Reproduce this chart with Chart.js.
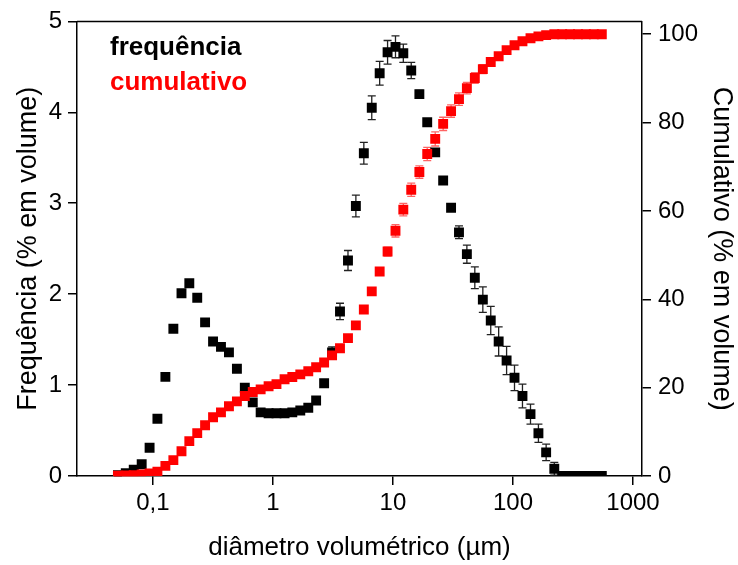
<!DOCTYPE html>
<html>
<head>
<meta charset="utf-8">
<script src="https://cdn.jsdelivr.net/npm/chart.js@4.4.0/dist/chart.umd.min.js"></script>
<style>
  body { margin: 0; background: #fff; }
  #wrap { width: 738px; height: 565px; }
</style>
</head>
<body>
<div id="wrap"><canvas id="psd"></canvas></div>
<script>
// particle diameters (um)
var diameters = [0.0511, 0.0594, 0.0692, 0.0806, 0.0938, 0.109, 0.127, 0.148, 0.173, 0.201,
  0.234, 0.272, 0.317, 0.369, 0.430, 0.501, 0.583, 0.679, 0.790, 0.920,
  1.07, 1.25, 1.45, 1.69, 1.97, 2.29, 2.67, 3.11, 3.62, 4.22,
  4.91, 5.72, 6.66, 7.75, 9.02, 10.5, 12.2, 14.2, 16.6, 19.3,
  22.5, 26.2, 30.5, 35.5, 41.3, 48.1, 56.1, 65.3, 76.0, 88.5,
  103, 120, 140, 163, 189, 221, 257, 299, 348, 405,
  472, 550];

// frequency (% em volume) and its error
var frequencia = [0.01, 0.03, 0.07, 0.13, 0.31, 0.63, 1.09, 1.62, 2.01, 2.12,
  1.96, 1.69, 1.48, 1.42, 1.36, 1.18, 0.97, 0.81, 0.70, 0.69,
  0.69, 0.69, 0.70, 0.72, 0.75, 0.83, 1.02, 1.36, 1.81, 2.37,
  2.97, 3.55, 4.05, 4.43, 4.66, 4.72, 4.65, 4.46, 4.20, 3.89,
  3.56, 3.25, 2.95, 2.68, 2.44, 2.18, 1.94, 1.71, 1.48, 1.27,
  1.08, 0.88, 0.68, 0.47, 0.26, 0.08, 0, 0, 0, 0,
  0, 0];
var frequenciaErr = [0.01, 0.01, 0.01, 0.01, 0.01, 0.01, 0.01, 0.01, 0.01, 0.01,
  0.01, 0.01, 0.01, 0.01, 0.01, 0.01, 0.01, 0.01, 0.01, 0.01,
  0.01, 0.01, 0.01, 0.01, 0.01, 0.01, 0.02, 0.06, 0.09, 0.11,
  0.12, 0.12, 0.13, 0.13, 0.13, 0.12, 0.10, 0.09, 0.04, 0.02,
  0.02, 0.02, 0.04, 0.07, 0.10, 0.12, 0.14, 0.155, 0.16, 0.155,
  0.14, 0.13, 0.11, 0.10, 0.09, 0.07, 0, 0, 0, 0,
  0, 0];

// cumulative (% em volume) and its error
var cumulativo = [0.05, 0.1, 0.2, 0.35, 0.6, 1.0, 2.3, 3.6, 5.6, 7.9,
  9.7, 11.5, 13.3, 14.4, 15.8, 16.9, 18.1, 19.0, 19.6, 20.3,
  20.8, 21.9, 22.4, 23.0, 23.7, 24.6, 25.7, 27.3, 28.9, 31.2,
  34.1, 37.7, 41.8, 46.3, 50.8, 55.5, 60.3, 64.8, 68.8, 72.9,
  76.3, 79.7, 82.6, 85.3, 87.8, 90.1, 92.1, 93.7, 95.0, 96.4,
  97.5, 98.4, 99.1, 99.5, 99.8, 100, 100, 100, 100, 100,
  100, 100];
var cumulativoErr = [0.3, 0.3, 0.3, 0.3, 0.3, 0.3, 0.3, 0.3, 0.3, 0.3,
  0.3, 0.3, 0.3, 0.3, 0.3, 0.3, 0.3, 0.3, 0.3, 0.3,
  0.3, 0.3, 0.3, 0.3, 0.3, 0.3, 0.3, 0.3, 0.3, 0.3,
  0.3, 0.3, 0.3, 0.8, 1.0, 1.4, 1.4, 1.5, 1.4, 1.5,
  1.6, 1.5, 1.4, 1.4, 1.3, 1.2, 1.0, 0.8, 0.3, 0.3,
  0.3, 0.3, 0.3, 0.3, 0.3, 0.3, 0.3, 0.3, 0.3, 0.3,
  0.3, 0.3];

var xTicks = [0.1, 1, 10, 100, 1000];
var yTicks = [0, 1, 2, 3, 4, 5];
var y2Ticks = [0, 20, 40, 60, 80, 100];

var FONT = "'Liberation Sans', Arial, sans-serif";

function toPoints(xs, ys){
  return xs.map(function(x, i){ return {x: x, y: ys[i]}; });
}

// vertical error bars with caps
var errorBars = {
  id: 'errorBars',
  beforeDatasetsDraw: function(chart){
    var ctx = chart.ctx;
    chart.data.datasets.forEach(function(ds, i){
      if (!ds.err) return;
      var meta = chart.getDatasetMeta(i);
      var yScale = chart.scales[ds.yAxisID];
      ctx.save();
      ctx.strokeStyle = ds.errColor;
      ctx.lineWidth = 1.3;
      meta.data.forEach(function(pt, j){
        var e = ds.err[j];
        if (!e) return;
        var v = ds.data[j].y;
        var top = yScale.getPixelForValue(v + e);
        var bot = yScale.getPixelForValue(Math.max(v - e, 0));
        ctx.beginPath();
        ctx.moveTo(pt.x, top); ctx.lineTo(pt.x, bot);
        ctx.moveTo(pt.x - 4, top); ctx.lineTo(pt.x + 4, top);
        ctx.moveTo(pt.x - 4, bot); ctx.lineTo(pt.x + 4, bot);
        ctx.stroke();
      });
      ctx.restore();
    });
  }
};

// frame on top + text legend inside the plot
var frameAndLegend = {
  id: 'frameAndLegend',
  afterDraw: function(chart){
    var ctx = chart.ctx, a = chart.chartArea;
    ctx.save();
    ctx.strokeStyle = '#000';
    ctx.lineWidth = 1.5;
    ctx.beginPath();
    ctx.moveTo(a.left, a.top); ctx.lineTo(a.right, a.top);
    ctx.stroke();
    ctx.font = 'bold 26px ' + FONT;
    ctx.textBaseline = 'middle';
    chart.data.datasets.forEach(function(ds, i){
      ctx.fillStyle = ds.labelColor;
      ctx.fillText(ds.label, a.left + 33, a.top + 26 + i * 35);
    });
    ctx.restore();
  }
};

var ctx = document.getElementById('psd');
var chart = new Chart(ctx, {
  type: 'scatter',
  data: {
    datasets: [{
      label: 'frequência',
      data: toPoints(diameters, frequencia),
      err: frequenciaErr,
      errColor: '#222',
      labelColor: '#000',
      yAxisID: 'y',
      backgroundColor: '#000',
      borderWidth: 0,
      pointStyle: 'rect',
      pointRadius: 7,
      clip: 0,
      order: 2
    }, {
      label: 'cumulativo',
      data: toPoints(diameters, cumulativo),
      err: cumulativoErr,
      errColor: 'rgba(255, 60, 60, 0.8)',
      labelColor: '#ff0000',
      yAxisID: 'y2',
      backgroundColor: '#ff0000',
      borderWidth: 0,
      pointStyle: 'rect',
      pointRadius: 7,
      clip: 0,
      order: 1
    }]
  },
  options: {
    responsive: true,
    maintainAspectRatio: false,
    animation: false,
    layout: { padding: { top: 20 } },
    plugins: { legend: { display: false }, tooltip: { enabled: false } },
    scales: {
      x: {
        type: 'logarithmic',
        min: 0.0233,
        max: 1189,
        afterBuildTicks: function(s){ s.ticks = xTicks.map(function(v){ return {value: v}; }); },
        afterFit: function(s){ s.height = 89; },
        ticks: {
          color: '#000', font: { family: FONT, size: 24 }, padding: 4,
          autoSkip: false, maxRotation: 0,
          callback: function(v){ return String(v).replace('.', ','); }
        },
        grid: { drawOnChartArea: false, tickLength: 9, color: '#000', lineWidth: 1.5 },
        border: { color: '#000', width: 1.5 },
        title: { display: true, text: 'diâmetro volumétrico (µm)', color: '#000',
                 font: { family: FONT, size: 26 }, padding: { bottom: 2 } }
      },
      y: {
        position: 'left',
        min: 0,
        max: 5,
        afterBuildTicks: function(s){ s.ticks = yTicks.map(function(v){ return {value: v}; }); },
        afterFit: function(s){ s.width = 77; },
        ticks: { color: '#000', font: { family: FONT, size: 24 }, padding: 6 },
        grid: { drawOnChartArea: false, tickLength: 9, color: '#000', lineWidth: 1.5 },
        border: { color: '#000', width: 1.5 },
        title: { display: true, text: 'Frequência (% em volume)', color: '#000',
                 font: { family: FONT, size: 27 }, padding: { top: 12 } }
      },
      y2: {
        position: 'right',
        min: 0,
        max: 102.9,
        afterBuildTicks: function(s){ s.ticks = y2Ticks.map(function(v){ return {value: v}; }); },
        afterFit: function(s){ s.width = 96; },
        ticks: { color: '#000', font: { family: FONT, size: 24 }, padding: 7 },
        grid: { drawOnChartArea: false, tickLength: 9, color: '#000', lineWidth: 1.5 },
        border: { color: '#000', width: 1.5 },
        title: { display: true, text: 'Cumulativo (% em volume)', color: '#000',
                 font: { family: FONT, size: 27 }, padding: { top: 0 } }
      }
    }
  },
  plugins: [errorBars, frameAndLegend]
});
</script>
</body>
</html>
